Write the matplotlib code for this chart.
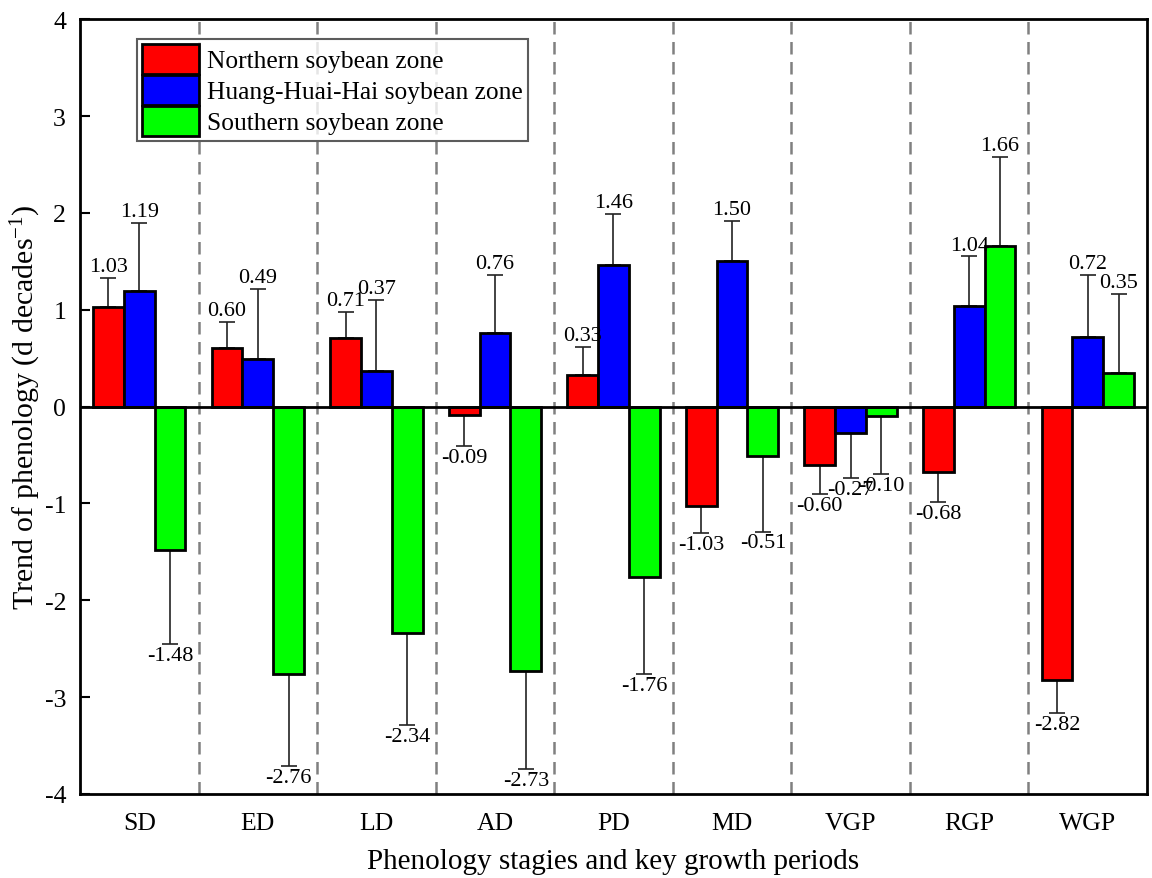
import matplotlib
matplotlib.use("Agg")
import matplotlib.pyplot as plt
import numpy as np

categories = ["SD", "ED", "LD", "AD", "PD", "MD", "VGP", "RGP", "WGP"]
series_names = ["Northern soybean zone", "Huang-Huai-Hai soybean zone", "Southern soybean zone"]
northern = [1.03, 0.60, 0.71, -0.09, 0.33, -1.03, -0.60, -0.68, -2.82]
huang = [1.19, 0.49, 0.37, 0.76, 1.46, 1.50, -0.27, 1.04, 0.72]
southern = [-1.48, -2.76, -2.34, -2.73, -1.76, -0.51, -0.10, 1.66, 0.35]
northern_err = [0.30, 0.27, 0.27, 0.32, 0.29, 0.28, 0.30, 0.31, 0.34]
huang_err = [0.71, 0.72, 0.73, 0.60, 0.53, 0.42, 0.47, 0.51, 0.64]
southern_err = [0.97, 0.95, 0.95, 1.01, 1.00, 0.78, 0.60, 0.92, 0.81]

colors = ["#ff0000", "#0000ff", "#00ff00"]

plt.rcParams['font.family'] = ['Liberation Serif', 'DejaVu Serif']
plt.rcParams['mathtext.fontset'] = 'custom'
plt.rcParams['mathtext.rm'] = 'Liberation Serif'
plt.rcParams['mathtext.it'] = 'Liberation Serif:italic'
plt.rcParams['mathtext.bf'] = 'Liberation Serif:bold'

fig = plt.figure(figsize=(11.52, 8.79), dpi=100)
ax = fig.add_axes([0.0694, 0.0956, 0.9263, 0.8814])

x = np.arange(len(categories))
w = 0.26
all_vals = [northern, huang, southern]
all_errs = [northern_err, huang_err, southern_err]
offsets = [-w, 0, w]

for vals, errs, col, off, name in zip(all_vals, all_errs, colors, offsets, series_names):
    vals = np.array(vals)
    errs = np.array(errs)
    pos = x + off
    ax.bar(pos, vals, width=w, color=col, edgecolor="black", linewidth=2, label=name, zorder=3)
    lower = np.where(vals < 0, errs, 0)
    upper = np.where(vals >= 0, errs, 0)
    ax.errorbar(pos, vals, yerr=[lower, upper], fmt="none", ecolor="#222222",
                elinewidth=1.2, capsize=5.5, capthick=1.2, zorder=2)
    for p, v, e in zip(pos, vals, errs):
        if v >= 0:
            ax.text(p, v + e + 0.02, f"{v:.2f}", ha="center", va="bottom", fontsize=16, zorder=5)
        else:
            ax.text(p, v - e - 0.02, f"{v:.2f}", ha="center", va="top", fontsize=16, zorder=5)

ax.axhline(0, color="black", linewidth=2, zorder=4)
for b in np.arange(0.5, len(categories) - 0.5, 1):
    ax.axvline(b, color="#808080", linestyle=(0, (5, 3)), linewidth=1.8, zorder=1)

ax.set_xlim(-0.5, len(categories) - 0.5)
ax.set_ylim(-4, 4)
ax.set_yticks(np.arange(-4, 5, 1))
ax.set_yticklabels([str(v) for v in range(-4, 5)])
ax.set_xticks(x)
ax.set_xticklabels(categories)
ax.tick_params(axis="y", direction="in", length=7, width=1.5, labelsize=18.5, pad=10)
ax.tick_params(axis="x", length=0, labelsize=18.5, pad=13)
for s in ax.spines.values():
    s.set_linewidth(2)

ax.set_ylabel("Trend of phenology (d decades$^{\\mathregular{-1}}$)", fontsize=21.5, labelpad=1)
ax.set_xlabel("Phenology stagies and key growth periods", fontsize=21, labelpad=10)

leg = ax.legend(loc="upper left", bbox_to_anchor=(0.053, 0.975), fontsize=18.4,
                handlelength=2.25, handleheight=1.42, handletextpad=0.3, labelspacing=0.05,
                borderpad=0.2, borderaxespad=0, frameon=True, fancybox=False, edgecolor="#333333")
leg.get_frame().set_linewidth(1.5)

fig.savefig("out.png", dpi=100)
